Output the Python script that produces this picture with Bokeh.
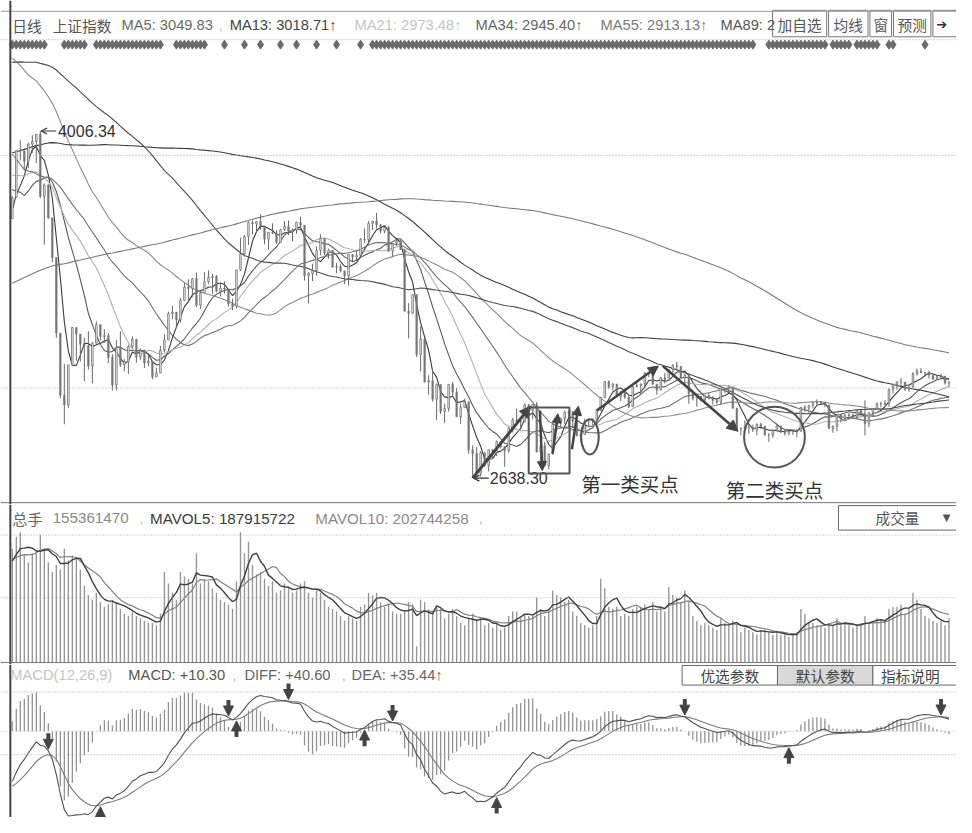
import numpy as np
import pandas as pd
from bokeh.plotting import figure
from bokeh.models import Range1d, Label, Span, Arrow, NormalHead, OpenHead, BoxAnnotation
from bokeh.layouts import column
from bokeh.embed import file_html
from bokeh.resources import INLINE

# ---------------- data ----------------
# closes before the visible window (needed for the long moving averages / MACD warm-up)
PRE_CLOSE = [2195, 2205, 2196, 2210, 2217,
    2235, 2266, 2288, 2306, 2326, 2318, 2332, 2341, 2356, 2307, 2296, 2316, 2329, 2315, 2290, 2345, 2350, 2347, 2358, 2363, 2364,
    2382, 2390, 2386, 2374, 2367, 2360, 2363, 2356, 2341, 2339, 2356, 2367, 2302, 2290, 2337, 2373, 2391, 2420,
    2430, 2419, 2431, 2450, 2418, 2474, 2494, 2485, 2485, 2478, 2474, 2450, 2452, 2487, 2532, 2567, 2604, 2630, 2682, 2683,
    2680, 2763, 2779, 2899, 2937, 3020, 2856, 2940, 2925, 2938, 2953, 3021, 3061, 3108, 3061, 3127, 3128, 2973, 3032, 3157, 3165, 3169, 3234,
    3350, 3351, 3373, 3293, 3285, 3229, 3235, 3222, 3336, 3376, 3116, 3173, 3323, 3343, 3351, 3383, 3352, 3305, 3262, 3210,
    3128, 3204, 3174, 3136, 3075, 3095, 3142, 3158, 3173, 3222, 3247, 3228, 3246, 3228, 3310,
    3336, 3263, 3279, 3248, 3241, 3302, 3286, 3290, 3349, 3372, 3449, 3502, 3577, 3617, 3617, 3582, 3661, 3691, 3660, 3691, 3786, 3747,
    3810, 3825, 3863, 3961, 3995, 3958, 4034, 4121, 4135, 4085, 4084, 4194, 4287, 4217, 4398, 4414, 4394, 4527, 4476, 4441, 4442,
    4480, 4298, 4229, 4112, 4205, 4333, 4401, 4375, 4378, 4308, 4284, 4283, 4446, 4529, 4657, 4813, 4910, 4941, 4620, 4611,
    4828, 4910, 4909, 4947, 5023, 5131, 5113, 5106, 5121, 5166, 5062, 4887, 4967, 4785, 4478, 4577, 4691, 4527, 4192, 4053, 4277,
    4053, 3912, 3686, 3775, 3727, 3507, 3709, 3877, 3970, 3924, 3805, 3823, 3957, 3992, 4017, 4026, 3960, 4070, 3725, 3663, 3789, 3705, 3664,
    3623, 3756, 3694, 3661]

CLOSE = [3744, 3928, 3928, 3887, 3955, 3965, 3993, 3748, 3794, 3664,
    3507, 3210, 2965, 2927, 3084, 3232, 3206, 3166, 3160, 3080,
    3170, 3243, 3197, 3200, 3114, 3005, 3152, 3086, 3097, 3156,
    3186, 3115, 3142, 3092, 3100, 3038, 3053, 3143, 3183, 3287,
    3293, 3262, 3338, 3391, 3386, 3425, 3320, 3368, 3412, 3429,
    3434, 3375, 3387, 3383, 3325, 3316, 3459, 3522, 3590, 3646,
    3640, 3650, 3632, 3580, 3607, 3604, 3568, 3618, 3630, 3610,
    3616, 3647, 3635, 3436, 3445, 3456, 3536, 3584, 3525, 3536,
    3470, 3472, 3455, 3435, 3520, 3510, 3516, 3580, 3578, 3642,
    3651, 3636, 3612, 3627, 3533, 3563, 3573, 3539, 3296, 3288,
    3361, 3125, 3186, 3017, 3022, 2949, 3007, 2901, 2913, 3008,
    2977, 2880, 2916, 2939, 2750, 2736, 2656, 2738, 2689, 2750,
    2740, 2782, 2763, 2747, 2837, 2868, 2863, 2860, 2927, 2904,
    2929, 2742, 2767, 2688, 2733, 2850, 2860, 2874, 2897, 2901,
    2863, 2805, 2810, 2864, 2864, 2871, 2905, 2955, 3019, 2999,
    3009, 2961, 2979, 2957, 2920, 3000, 3004, 3009, 3053, 3050,
    3009, 2985, 3034, 3023, 3066, 3082, 3078, 3034, 3043, 2972,
    2953, 2960, 2947, 2964, 2954, 2945, 2938, 2992, 2992, 2998,
    2914, 2833, 2833, 2838, 2836, 2828, 2851, 2843, 2808, 2807,
    2826, 2844, 2822, 2815, 2823, 2822, 2823, 2917, 2914, 2925,
    2938, 2934, 2936, 2927, 2834, 2843, 2887, 2873, 2885, 2888,
    2879, 2905, 2892, 2854, 2896, 2912, 2932, 2930, 2933, 2989,
    3007, 3018, 3017, 2989, 2995, 3049, 3061, 3054, 3055, 3044,
    3028, 3037, 3040, 3013, 3016]

HIGH = [3750, 3930, 3970, 3927, 3960, 3990, 3994, 4006.34, 3800, 3790,
    3640, 3388, 3174, 3088, 3085, 3233, 3207, 3205, 3191, 3217,
    3174, 3256, 3243, 3225, 3210, 3127, 3182, 3217, 3107, 3164,
    3197, 3168, 3149, 3144, 3124, 3081, 3073, 3159, 3205, 3294,
    3318, 3292, 3348, 3407, 3422, 3426, 3448, 3375, 3450, 3457,
    3443, 3438, 3403, 3414, 3377, 3346, 3459, 3586, 3597, 3650,
    3654, 3651, 3678, 3614, 3608, 3642, 3615, 3620, 3651, 3654,
    3622, 3648, 3669, 3621, 3450, 3483, 3552, 3599, 3568, 3543,
    3520, 3486, 3482, 3446, 3520, 3521, 3533, 3585, 3622, 3651,
    3652, 3684, 3640, 3633, 3631, 3565, 3581, 3576, 3538, 3328,
    3362, 3309, 3236, 3192, 3044, 3068, 3011, 3003, 2932, 3009,
    3017, 2993, 2931, 2951, 2938, 2768, 2761, 2745, 2741, 2750,
    2746, 2787, 2782, 2751, 2837, 2876, 2912, 2865, 2933, 2931,
    2930, 2938, 2797, 2781, 2734, 2853, 2861, 2875, 2905, 2907,
    2870, 2865, 2815, 2873, 2868, 2872, 2906, 2958, 3020, 3023,
    3013, 3003, 2981, 2991, 2964, 3000, 3021, 3011, 3055, 3055,
    3053, 3006, 3037, 3052, 3067, 3087, 3097, 3063, 3050, 3052,
    2987, 2962, 2963, 2967, 2974, 2962, 2950, 2993, 2993, 3004,
    2997, 2906, 2839, 2866, 2849, 2849, 2853, 2857, 2843, 2816,
    2830, 2847, 2839, 2831, 2825, 2829, 2828, 2917, 2926, 2926,
    2938, 2949, 2942, 2939, 2884, 2846, 2888, 2891, 2891, 2894,
    2893, 2906, 2904, 2945, 2896, 2913, 2936, 2940, 2945, 2989,
    3012, 3019, 3033, 3016, 3006, 3056, 3070, 3072, 3057, 3063,
    3044, 3042, 3050, 3037, 3020]

LOW = [3700, 3760, 3890, 3850, 3860, 3920, 3880, 3743, 3558, 3660,
    3490, 3191, 2953, 2850.71, 2915, 3087, 3101, 3098, 3020, 3066,
    3012, 3183, 3181, 3171, 3092, 2983, 2984, 3076, 3060, 3049,
    3150, 3093, 3105, 3072, 3080, 3028, 3039, 3095, 3134, 3188,
    3264, 3229, 3251, 3339, 3333, 3353, 3312, 3305, 3372, 3404,
    3365, 3371, 3354, 3365, 3314, 3300, 3307, 3454, 3512, 3557,
    3598, 3605, 3617, 3560, 3538, 3600, 3561, 3569, 3612, 3596,
    3572, 3602, 3622, 3417, 3327, 3415, 3436, 3517, 3517, 3503,
    3467, 3446, 3449, 3403, 3397, 3492, 3495, 3546, 3564, 3567,
    3616, 3622, 3603, 3603, 3529, 3511, 3554, 3538, 3295, 3189,
    3288, 3116, 3059, 3016, 2967, 2940, 2867, 2891, 2856, 2901,
    2960, 2880, 2851, 2915, 2734, 2638.30, 2655, 2644, 2683, 2665,
    2714, 2725, 2755, 2683, 2739, 2818, 2860, 2828, 2862, 2902,
    2870, 2740, 2693, 2687, 2673, 2736, 2825, 2836, 2851, 2844,
    2836, 2804, 2779, 2814, 2840, 2846, 2854, 2907, 2958, 2990,
    2983, 2959, 2942, 2951, 2914, 2932, 2996, 2969, 2994, 3036,
    3006, 2967, 2987, 3011, 3025, 3048, 3065, 3031, 3003, 2931,
    2944, 2920, 2940, 2929, 2949, 2928, 2928, 2926, 2974, 2978,
    2912, 2833, 2807, 2830, 2813, 2820, 2807, 2832, 2806, 2781,
    2797, 2825, 2816, 2806, 2807, 2809, 2799, 2823, 2900, 2891,
    2914, 2928, 2927, 2918, 2832, 2817, 2823, 2858, 2865, 2870,
    2871, 2874, 2881, 2807, 2839, 2879, 2909, 2917, 2925, 2919,
    2971, 2987, 3001, 2982, 2978, 3000, 3043, 3052, 3044, 3031,
    3027, 3025, 3032, 3007, 2997]

# volume in 1e8 hands
PRE_VOL = [4.5, 4.8, 4.2, 4.4, 4.6, 4.0, 4.3, 4.5, 4.1]
VOLUME = [4.9, 5.4, 5.6, 4.6, 4.3, 4.7, 4.8, 5.5, 4.9, 4.3,
    3.9, 4.2, 4.0, 4.9, 4.4, 4.6, 4.5, 4.0, 3.3, 2.9,
    2.7, 3.0, 2.6, 2.4, 2.5, 2.7, 2.6, 2.3, 2.1, 2.0,
    2.2, 2.0, 1.9, 1.8, 1.7, 1.7, 1.6, 2.1, 3.9, 3.4,
    3.0, 2.7, 3.9, 3.7, 3.6, 3.4, 4.7, 3.4, 3.6, 3.5,
    3.2, 3.0, 2.7, 2.6, 2.5, 2.3, 3.5, 5.6, 4.7, 5.2,
    4.2, 3.8, 3.9, 3.6, 3.3, 3.5, 3.0, 3.1, 3.4, 3.2,
    3.0, 3.1, 3.4, 3.5, 3.0, 2.8, 3.1, 3.0, 2.7, 2.4,
    2.3, 2.2, 2.0, 1.8, 2.0, 1.9, 1.8, 2.4, 2.5, 3.0,
    2.9, 3.0, 2.6, 2.4, 2.5, 2.2, 2.1, 2.1, 2.2, 2.6,
    2.5, 0.7, 2.7, 2.6, 2.3, 2.2, 2.4, 2.3, 1.9, 2.1,
    2.3, 2.0, 1.7, 1.6, 1.9, 2.1, 1.8, 1.9, 1.6, 1.7,
    1.5, 1.7, 1.4, 1.5, 2.0, 2.2, 2.2, 1.9, 2.1, 2.0,
    2.0, 2.8, 2.3, 2.0, 2.2, 3.1, 2.9, 2.8, 2.6, 2.7,
    2.2, 2.0, 1.7, 1.6, 1.5, 1.6, 2.0, 3.6, 3.2, 2.4,
    2.3, 2.4, 2.0, 2.1, 2.0, 2.3, 2.4, 2.4, 2.5, 2.3,
    2.6, 2.2, 2.3, 2.2, 3.25, 2.9, 2.8, 2.6, 3.1, 2.6,
    2.0, 1.8, 1.6, 1.7, 1.6, 1.5, 1.4, 1.9, 1.7, 1.6,
    1.8, 1.6, 1.3, 1.5, 1.4, 1.3, 1.2, 1.4, 1.4, 1.3,
    1.2, 1.3, 1.2, 1.2, 1.1, 1.2, 1.3, 2.3, 2.1, 1.7,
    1.7, 1.6, 1.6, 1.5, 1.7, 1.6, 1.9, 1.6, 1.7, 1.6,
    1.5, 1.6, 1.7, 2.0, 1.7, 1.8, 1.9, 1.8, 1.8, 2.3,
    2.4, 2.4, 2.5, 2.1, 2.3, 3.0, 2.7, 2.3, 2.0, 1.9,
    1.8, 1.7, 1.8, 1.6, 1.9]

MA_PERIODS = [5, 13, 21, 34, 55, 89, 144, 233]
MA_COLORS = ["#3a3a3a", "#5a5a5a", "#b0b0b0", "#707070", "#8a8a8a", "#4a4a4a", "#3c3c3c", "#7a7a7a"]

# info-mine marker bars (bar indices)
INFO_IDX = (list(range(0, 9)) + list(range(13, 19)) + list(range(21, 38)) + list(range(41, 49)) +
            [53, 58, 62, 67, 71, 76, 81, 87] + list(range(90, 186)) + list(range(189, 204)) +
            list(range(205, 210)) + list(range(211, 217)) + [219, 220, 228])

# MACD cross arrows (bar index)
DOWN_CROSS = [9, 54, 69, 95, 168, 232]
UP_CROSS = [22, 56, 88, 121, 194]

PRICE_HEADER = [("日线", 12, "#555", "cjk"), ("上证指数", 53, "#555", "cjk"),
                ("MA5: 3049.83", 123, "#6a6a6a", "lat"), (",", 222, "#c0c0c0", "lat"),
                ("MA13: 3018.71↑", 233, "#444", "lat"), ("MA21: 2973.48↑", 360, "#c4c4c4", "lat"),
                ("MA34: 2945.40↑", 483, "#666", "lat"), ("MA55: 2913.13↑", 610, "#7a7a7a", "lat"),
                ("MA89: 2", 732, "#555", "lat")]
PRICE_BUTTONS = [("加自选", 785, 840), ("均线", 842, 882), ("窗", 884, 906), ("预测", 908, 946), ("➔", 948, 980)]
VOL_HEADER = [("总手", 12, "#666", "cjk"), (":", 35, "#888", "lat"), ("155361470", 53, "#8a8a8a", "lat"),
              (",", 141, "#c0c0c0", "lat"), ("MAVOL5: 187915722", 152, "#3a3a3a", "lat"),
              ("MAVOL10: 202744258", 320, "#8a8a8a", "lat"), (",", 486, "#c0c0c0", "lat")]
MACD_HEADER = [("MACD(12,26,9)", 10, "#c4c4c4", "lat"), ("MACD: +10.30", 130, "#555", "lat"),
               (",", 236, "#c0c0c0", "lat"), ("DIFF: +40.60", 248, "#666", "lat"),
               (",", 347, "#c0c0c0", "lat"), ("DEA: +35.44↑", 357, "#666", "lat")]
MACD_BUTTONS = [("优选参数", 693, 790, "white"), ("默认参数", 790, 887, "#d9d9d9"), ("指标说明", 887, 980, "white")]

# ---------------- derived series ----------------
n_pre = len(PRE_CLOSE)
N = len(CLOSE)
idx = np.arange(N)
call = pd.Series(np.array(PRE_CLOSE + CLOSE, dtype=float))
mas = {n: call.rolling(n).mean().values[n_pre:] for n in MA_PERIODS}
ema12 = call.ewm(span=12, adjust=False).mean()
ema26 = call.ewm(span=26, adjust=False).mean()
diff_all = ema12 - ema26
dea_all = diff_all.ewm(span=9, adjust=False).mean()
DIFF = diff_all.values[n_pre:]
DEA = dea_all.values[n_pre:]
MACD = 2 * (DIFF - DEA)

opens = call.values[n_pre - 1:-1]
closes = np.array(CLOSE, dtype=float)
highs = np.maximum(np.array(HIGH, dtype=float), np.maximum(opens, closes))
lows = np.minimum(np.array(LOW, dtype=float), np.minimum(opens, closes))

vall = pd.Series(np.array(PRE_VOL + VOLUME, dtype=float))
MAVOL5 = vall.rolling(5, min_periods=1).mean().values[len(PRE_VOL):]
MAVOL10 = vall.rolling(10, min_periods=1).mean().values[len(PRE_VOL):]

# ---------------- geometry: reference pixel space -> data ----------------
SY = 817 / 833.0
def IX(rx): return (rx - 12) / 4.07
def PY(ry): return 2638.3 + (487 - ry) * 3.865
def VY(ry): return (675 - ry) / 23.7
def MY(ry): return (745 - ry) / 0.4

H1, H2, H3 = 504, 160, 153
B1 = H1 / SY            # ref y where panel 1 ends
B2 = (H1 + H2) / SY     # ref y where panel 2 ends

LAT = "Liberation Sans"
CJK = "Noto Sans CJK SC"
FS = "14.7px"
xr = Range1d(IX(0), IX(972))

def mkfig(h, y0, y1):
    p = figure(width=956, height=h, x_range=xr, y_range=Range1d(y0, y1),
               x_axis_type=None, y_axis_type=None, toolbar_location=None,
               output_backend="svg", min_border=0)
    p.min_border_left = p.min_border_right = p.min_border_top = p.min_border_bottom = 0
    p.outline_line_color = None
    p.background_fill_color = "white"
    p.border_fill_color = "white"
    return p

def lab(p, fy, rx, ry, text, color, size=FS, font=LAT, align="left", style="normal"):
    p.add_layout(Label(x=IX(rx), y=fy(ry), text=text, text_color=color, text_font=font,
                       text_font_size=size, text_align=align, text_baseline="middle",
                       text_font_style=style))

def hline(p, y, color="#a8a8a8", dash="1 2", width=1):
    p.add_layout(Span(location=y, dimension="width", line_color=color, line_dash=dash, line_width=width))

def border(p):
    p.add_layout(Span(location=IX(10), dimension="height", line_color="#444", line_width=2))

def big_arrow(p, x0, y0, x1, y1, w=3, size=11):
    p.add_layout(Arrow(end=NormalHead(size=size, fill_color="#444", line_color="#444"),
                       x_start=x0, y_start=y0, x_end=x1, y_end=y1, line_color="#444", line_width=w))

# ---------------- price panel ----------------
p1 = mkfig(H1, PY(B1), PY(0))
for y in (40, 158, 395):
    hline(p1, PY(y))
hline(p1, PY(11), color="#999", dash="solid")
hline(p1, PY(512), color="#777", dash="solid")
border(p1)

p1.scatter(x=INFO_IDX, y=[PY(45)] * len(INFO_IDX), marker="diamond", size=9,
           fill_color="#6a6a6a", line_color="#6a6a6a")

for n, col in zip(MA_PERIODS, MA_COLORS):
    p1.line(idx, mas[n], line_color=col, line_width=1.1)

p1.segment(x0=idx, y0=lows, x1=idx, y1=highs, line_color="#6a6a6a", line_width=1)
up = closes >= opens
p1.vbar(x=idx[up], bottom=opens[up], top=closes[up], width=0.38, fill_color="white", line_color="#6a6a6a", line_width=0.8)
p1.vbar(x=idx[~up], bottom=closes[~up], top=opens[~up], width=0.38, fill_color="#777", line_color="#777", line_width=0.6)

# extreme labels
ih = int(np.argmax(highs)); il = int(np.argmin(lows))
p1.add_layout(Arrow(end=OpenHead(size=6, line_color="#333", line_width=1.2), x_start=ih + 4, y_start=highs[ih],
                    x_end=ih + 0.2, y_end=highs[ih], line_color="#333", line_width=1.2))
p1.add_layout(Label(x=ih + 4.4, y=highs[ih], text=f"{highs[ih]:.2f}", text_font=LAT, text_font_size="16px",
                    text_color="#333", text_baseline="middle"))
p1.add_layout(Arrow(end=OpenHead(size=6, line_color="#333", line_width=1.2), x_start=il + 4, y_start=lows[il],
                    x_end=il + 0.2, y_end=lows[il], line_color="#333", line_width=1.2))
p1.add_layout(Label(x=il + 4.3, y=lows[il], text=f"{lows[il]:.2f}", text_font=LAT, text_font_size="16px",
                    text_color="#333", text_baseline="middle"))

# hand-drawn annotations
big_arrow(p1, il, lows[il], 129.5, 2922)
p1.add_layout(BoxAnnotation(left=129.0, right=139.2, bottom=2657, top=2917, fill_alpha=0,
                            line_color="#555", line_alpha=1.0, line_width=2))
big_arrow(p1, 131.8, 2905, 132.4, 2668, w=2.5, size=9)
big_arrow(p1, 135.0, 2735, 136.3, 2892, w=2.5, size=9)
big_arrow(p1, 139.8, 2752, 141.4, 2922, w=2.5, size=9)
p1.ellipse(x=[144.3], y=[2801], width=4.4, height=139, fill_color=None, line_color="#555", line_width=2)
big_arrow(p1, 146.0, 2905, 161.4, 3080, w=2.5, size=10)
big_arrow(p1, 162.5, 3080, 181.3, 2823, w=2.5, size=11)
p1.ellipse(x=[190.4], y=[2800], width=15.2, height=240, fill_color=None, line_color="#555", line_width=2)
p1.add_layout(Label(x=154.3, y=PY(492), text="第一类买点", text_font=CJK, text_font_size="19.5px",
                    text_color="#333", text_align="center", text_baseline="middle"))
p1.add_layout(Label(x=190.4, y=PY(499), text="第二类买点", text_font=CJK, text_font_size="19.5px",
                    text_color="#333", text_align="center", text_baseline="middle"))

# header
for t, rx, col, f in PRICE_HEADER:
    lab(p1, PY, rx, 25, t, col, font=CJK if f == "cjk" else LAT)
for t, l, r in PRICE_BUTTONS:
    p1.quad(left=[IX(l)], right=[IX(r)], bottom=[PY(37)], top=[PY(10)], fill_color="white", line_color="#777")
    if t == "➔":
        lab(p1, PY, 957, 24, t, "#333", size="13px", font="DejaVu Sans", align="center")
    else:
        lab(p1, PY, (l + r) / 2, 24, t, "#555", font=CJK, align="center")

# ---------------- volume panel ----------------
p2 = mkfig(H2, VY(B2), VY(B1))
hline(p2, VY(545)); hline(p2, VY(609))
border(p2)
p2.vbar(x=idx, top=VOLUME, bottom=0, width=0.34, fill_color="#959595", line_color=None)
p2.line(idx, MAVOL10, line_color="#808080", line_width=1.2)
p2.line(idx, MAVOL5, line_color="#404040", line_width=1.4)
hline(p2, 0, color="#777", dash="solid")
for t, rx, col, f in VOL_HEADER:
    lab(p2, VY, rx, 528, t, col, size="15.2px", font=CJK if f == "cjk" else LAT)
p2.quad(left=[IX(852)], right=[IX(985)], bottom=[VY(540)], top=[VY(515)], fill_color="white", line_color="#666")
lab(p2, VY, 912, 527, "成交量", "#555", font=CJK, align="center")
lab(p2, VY, 962, 527, "▼", "#555", size="10px", font="DejaVu Sans", align="center")

# ---------------- MACD panel ----------------
p3 = mkfig(H3, MY(833), MY(B2))
hline(p3, MY(705)); hline(p3, MY(769)); hline(p3, 0, color="#c0c0c0")
border(p3)
p3.segment(x0=idx, y0=np.zeros(N), x1=idx, y1=MACD, line_color="#929292", line_width=1.3)
p3.line(idx, DEA, line_color="#7a7a7a", line_width=1.1)
p3.line(idx, DIFF, line_color="#505050", line_width=1.1)
for i in DOWN_CROSS:
    y = max(DIFF[i], DEA[i])
    big_arrow(p3, i, y + 45, i, y + 4, w=4, size=10)
for i in UP_CROSS:
    y = min(DIFF[i], DEA[i])
    big_arrow(p3, i, y - 45, i, y - 4, w=4, size=10)
for t, rx, col, f in MACD_HEADER:
    lab(p3, MY, rx, 688, t, col, font=LAT)
for t, l, r, bg in MACD_BUTTONS:
    p3.quad(left=[IX(l)], right=[IX(r)], bottom=[MY(698)], top=[MY(678)], fill_color=bg, line_color="#666")
    lab(p3, MY, (l + r) / 2 if r < 972 else 925, 688, t, "#444", font=CJK, align="center")

layout = column(p1, p2, p3)
open("out.html", "w").write(file_html(layout, INLINE, title="上证指数"))
